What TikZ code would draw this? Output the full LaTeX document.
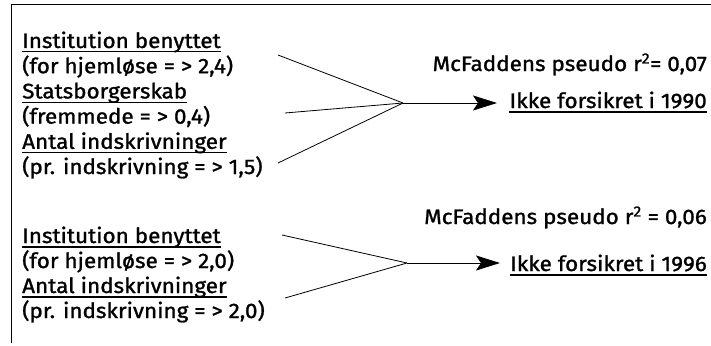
\documentclass[tikz,border=0pt]{standalone}
\usepackage{fontspec}
\setmainfont{Fira Sans}[FakeBold=1.2, FakeStretch=1.07]
\usetikzlibrary{arrows.meta}
\tikzset{
  txt/.style={inner sep=0pt, font=\fontsize{21}{25}\selectfont},
  lft/.style={txt, anchor=base west},
  rgt/.style={txt, anchor=base east},
  conn/.style={line width=0.8pt},
  ul/.style={line width=1.4pt},
  arr/.style={line width=0.8pt, -{Stealth[length=24pt, width=15pt, inset=5pt]}},
  frame/.style={line width=1pt}
}
\newcommand{\ulnode}[1]{\draw[ul] ([yshift=-3.8pt]#1.base west) -- ([yshift=-3.8pt]#1.base east);}
\begin{document}
\begin{tikzpicture}[x=1pt, y=-1pt]
\useasboundingbox (0,0) rectangle (711,345);
\coordinate (tl) at (11,5);
\coordinate (tr) at (711,5);
\coordinate (bl) at (11,343);
\draw[frame] (tr) -- (tl) -- (bl);

% block 1
\node[lft] (a1) at (22,48) {Institution benyttet};
\node[lft] (a2) at (22,73.2) {(for hjemløse = > 2,4)};
\node[lft] (a3) at (22,98.4) {Statsborgerskab};
\node[lft] (a4) at (22,123.6) {(fremmede = > 0,4)};
\node[lft] (a5) at (22,148.8) {Antal indskrivninger};
\node[lft] (a6) at (22,174) {(pr. indskrivning = > 1,5)};
\ulnode{a1}\ulnode{a3}\ulnode{a5}

\coordinate (s1) at (278,55);
\coordinate (s2) at (285,113);
\coordinate (s3) at (278,163);
\coordinate (h1) at (403,103);
\coordinate (t1) at (497,103);
\draw[conn] (s1) -- (h1);
\draw[conn] (s2) -- (h1);
\draw[conn] (s3) -- (h1);
\draw[arr] (h1) -- (t1);
\node[rgt] (m1) at (707,71) {McFaddens pseudo r\textsuperscript{2}= 0,07};
\node[rgt] (o1) at (707,108) {Ikke forsikret i 1990};
\ulnode{o1}

% block 2
\node[lft] (b1) at (22,243) {Institution benyttet};
\node[lft] (b2) at (22,268) {(for hjemløse = > 2,0)};
\node[lft] (b3) at (22,293) {Antal indskrivninger};
\node[lft] (b4) at (22,318) {(pr. indskrivning = > 2,0)};
\ulnode{b1}\ulnode{b3}

\coordinate (u1) at (282,235);
\coordinate (u2) at (285,298);
\coordinate (h2) at (407,263);
\coordinate (t2) at (500,263);
\draw[conn] (u1) -- (h2);
\draw[conn] (u2) -- (h2);
\draw[arr] (h2) -- (t2);
\node[rgt] (m2) at (707,224) {McFaddens pseudo r\textsuperscript{2} = 0,06};
\node[rgt] (o2) at (707,271) {Ikke forsikret i 1996};
\ulnode{o2}
\end{tikzpicture}
\end{document}
